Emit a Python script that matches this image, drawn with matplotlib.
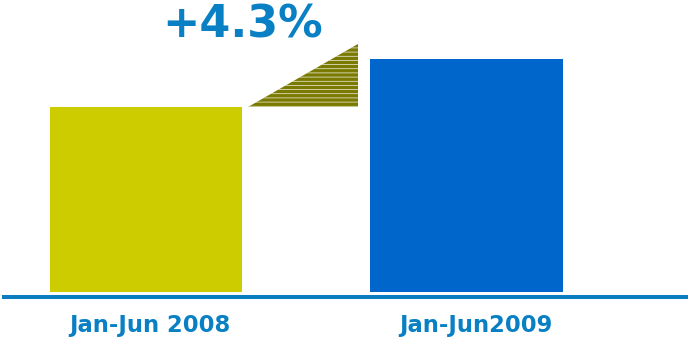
import matplotlib
matplotlib.use("Agg")
import matplotlib.pyplot as plt
from matplotlib.patches import Polygon
from matplotlib.transforms import blended_transform_factory, ScaledTranslation

# Half-year volume index (Jan-Jun 2008 = 100)
periods = ["Jan-Jun 2008", "Jan-Jun2009"]
values = [100.0, 104.3]
bar_colors = ["#CCCC00", "#0066CC"]
axis_floor = 83.4          # value axis starts here (truncated)
axis_ceiling = 109.6

text_blue = "#0A80C4"
line_blue = "#0A7DC0"
wedge_olive = "#7A7A00"

plt.rcParams["font.family"] = ["DejaVu Sans"]
plt.rcParams["hatch.linewidth"] = 0.45

fig = plt.figure(figsize=(6.88, 3.38), dpi=100)
W, H = 688, 338
ax = fig.add_axes([4 / W, 46 / H, 684 / W, 292 / H])

x = list(range(len(values)))
width = 0.6
ax.bar(x, [v - axis_floor for v in values], bottom=axis_floor,
       width=width, color=bar_colors, linewidth=0, zorder=2)

ax.set_xlim(-0.445, 1.692)
ax.set_ylim(axis_floor, axis_ceiling)

# Rising wedge between the two bars
x0 = x[0] + width / 2 + 0.017
x1 = x[1] - width / 2 - 0.039
rise = values[1] - values[0]
y0 = values[0]
y1 = values[1] + rise * 0.31
tri = [(x0, y0), (x1, y0), (x1, y1)]
ax.add_patch(Polygon(tri, closed=True, facecolor=wedge_olive,
                     edgecolor="none", linewidth=0, zorder=3))
ax.add_patch(Polygon(tri, closed=True, facecolor="none",
                     edgecolor="white", linewidth=0, hatch="----", zorder=4))

# Growth label
change = (values[1] / values[0] - 1) * 100
trans = blended_transform_factory(ax.transData, ax.transAxes)
ax.text(x[0] + width / 2, 0.872, f"+{change:.1f}%", transform=trans,
        ha="center", va="baseline", fontsize=32, fontweight="bold",
        color=text_blue)

# Axis styling: only a heavy baseline below the bars
for side in ("left", "right", "top"):
    ax.spines[side].set_visible(False)
ax.spines["bottom"].set_position(("outward", 3.6))
ax.spines["bottom"].set_linewidth(2.9)
ax.spines["bottom"].set_color(line_blue)
ax.set_yticks([])
ax.set_xticks(x, periods)
ax.tick_params(axis="x", length=0, pad=12, labelsize=16.3, labelcolor=text_blue)
label_shift_px = [3.5, 9.5]
for lbl, dx in zip(ax.get_xticklabels(), label_shift_px):
    lbl.set_fontweight("bold")
    lbl.set_transform(lbl.get_transform()
                      + ScaledTranslation(dx / 100, 0, fig.dpi_scale_trans))

fig.savefig("out.png", dpi=100)
